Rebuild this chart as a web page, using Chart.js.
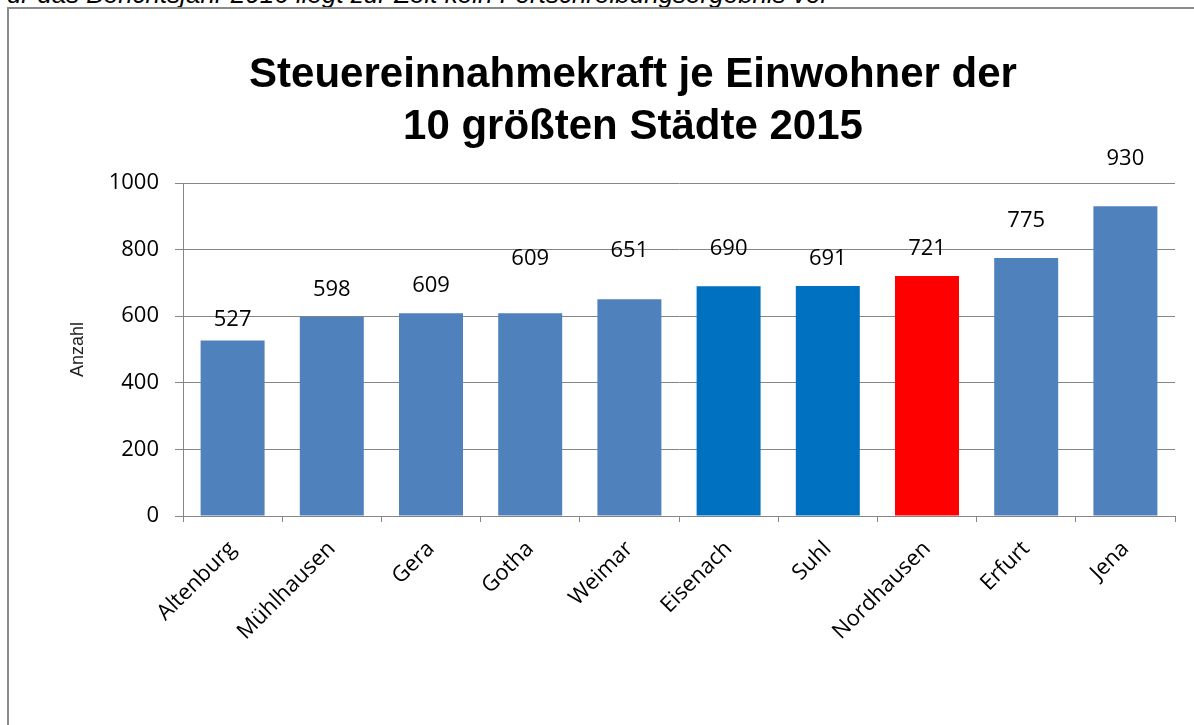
<!DOCTYPE html>
<html><head><meta charset="utf-8">
<script src="https://cdn.jsdelivr.net/npm/chart.js@4.4.1/dist/chart.umd.min.js"></script>
<style>
html,body{margin:0;padding:0;background:#fff;overflow:hidden;}
#wrap{position:relative;width:1194px;height:725px;}
#note{position:absolute;left:-9px;top:-19px;font:italic 26px "Liberation Sans",Arial,sans-serif;line-height:26px;color:#000;white-space:nowrap;}
#frame{position:absolute;left:7px;top:7px;width:1300px;height:800px;border-left:2px solid #8a8a8a;border-top:2px solid #8a8a8a;}
#title{position:absolute;left:0;width:1266px;top:47px;text-align:center;font:bold 42px "Liberation Sans",Arial,sans-serif;line-height:52px;color:#000;}
canvas{position:absolute;left:0;top:0;}
</style></head>
<body><div id="wrap">
<div id="note">Für das Berichtsjahr 2016 liegt zur Zeit kein Fortschreibungsergebnis vor</div>
<div id="frame"></div>
<canvas id="c" width="1194" height="725"></canvas>
<div id="title">Steuereinnahmekraft je Einwohner der<br>10 größten Städte 2015</div>
</div>
<script>
const categories = ["Altenburg","Mühlhausen","Gera","Gotha","Weimar","Eisenach","Suhl","Nordhausen","Erfurt","Jena"];
const values = [527,598,609,609,651,690,691,721,775,930];
const yTicks = [0,200,400,600,800,1000];
const barColors = ["#4F81BD","#4F81BD","#4F81BD","#4F81BD","#4F81BD","#0070C0","#0070C0","#FF0000","#4F81BD","#4F81BD"];
const labelLift = [21,27,27,54,48,37,27,27,37,48];

const valueLabels = {
  id:'valueLabels',
  afterDatasetsDraw(chart){
    const ctx = chart.ctx;
    const meta = chart.getDatasetMeta(0);
    ctx.save();
    ctx.font = '22px "Open Sans"';
    ctx.fillStyle = '#000';
    ctx.textAlign = 'center';
    ctx.textBaseline = 'middle';
    meta.data.forEach((bar,i)=>{
      ctx.fillText(String(values[i]), bar.x, bar.y - labelLift[i]);
    });
    ctx.restore();
  }
};

new Chart(document.getElementById('c'), {
  type:'bar',
  data:{labels:categories, datasets:[{data:values, backgroundColor:barColors, barPercentage:0.645, categoryPercentage:1}]},
  options:{
    responsive:false, animation:false, devicePixelRatio:1,
    layout:{padding:{top:183,right:19,left:0,bottom:0}},
    plugins:{legend:{display:false}, title:{display:false}, tooltip:{enabled:false}},
    scales:{
      x:{
        grid:{offset:true, drawOnChartArea:false, tickLength:6, color:'#868686'},
        border:{color:'#868686'},
        ticks:{color:'#000', font:{family:'Open Sans', size:22}, maxRotation:45, minRotation:45, padding:14, autoSkip:false},
        afterFit(s){ s.height = 209; }
      },
      y:{
        min:0, max:1000,
        afterBuildTicks(s){ s.ticks = yTicks.map(v=>({value:v})); },
        grid:{color:'#868686', tickLength:8},
        border:{color:'#868686'},
        ticks:{color:'#000', font:{family:'Open Sans', size:22}, padding:16, callback:(v)=>String(v)},
        title:{display:true, text:'Anzahl', color:'#222', font:{family:'Liberation Sans', size:18}, padding:{top:67,bottom:0}},
        afterFit(s){ s.width = 183; }
      }
    }
  },
  plugins:[valueLabels]
});
</script>
</body></html>
